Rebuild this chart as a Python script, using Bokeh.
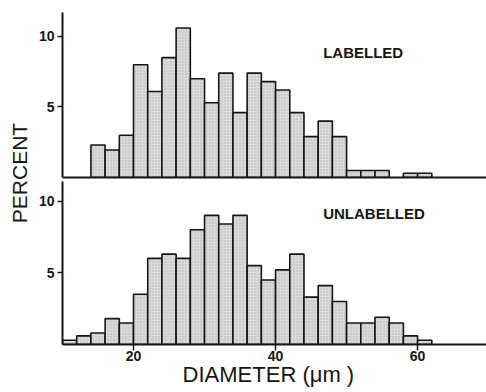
from bokeh.plotting import figure
from bokeh.layouts import row, column
from bokeh.models import Range1d, FixedTicker, ColumnDataSource
from bokeh.core.properties import value
from bokeh.embed import file_html
from bokeh.resources import INLINE
import math

# ---- data: 2-µm diameter bins (left edges) and percent per bin ----
bin_left = [10, 12, 14, 16, 18, 20, 22, 24, 26, 28, 30, 32, 34,
            36, 38, 40, 42, 44, 46, 48, 50, 52, 54, 56, 58, 60]
labelled = [0, 0, 2.3, 1.95, 3.0, 8.0, 6.1, 8.5, 10.6, 7.0, 5.3, 7.4, 4.6,
            7.4, 6.8, 6.2, 4.6, 2.9, 4.0, 2.9, 0.5, 0.5, 0.5, 0, 0.3, 0.3]
unlabelled = [0.3, 0.6, 0.8, 1.8, 1.5, 3.5, 6.0, 6.3, 6.0, 8.0, 9.0, 8.4, 9.0,
              5.5, 4.5, 5.2, 6.3, 3.3, 4.1, 3.0, 1.5, 1.5, 1.9, 1.5, 0.6, 0.3]
bin_width = 2
y_ticks = [5, 10]
x_ticks = [20, 40, 60]
panel_names = ["LABELLED", "UNLABELLED"]
y_title = "PERCENT"
x_title = "DIAMETER  (\u03bcm  )"

FONT = "Liberation Sans"
INK = "#161616"
X_RANGE = (10, 69.7)
PW = 452  # panel width


def style_panel(p, yticks):
    p.toolbar.logo = None
    p.grid.visible = False
    p.outline_line_color = None
    p.background_fill_color = "white"
    p.border_fill_color = "white"
    p.yaxis.ticker = FixedTicker(ticks=yticks)
    p.yaxis.axis_line_width = 2
    p.yaxis.axis_line_color = INK
    p.yaxis.major_tick_line_width = 1.5
    p.yaxis.major_tick_line_color = INK
    p.yaxis.major_tick_out = 5
    p.yaxis.major_tick_in = 0
    p.yaxis.minor_tick_line_color = None
    p.yaxis.major_label_standoff = 3
    p.yaxis.major_label_text_font = FONT
    p.yaxis.major_label_text_font_size = "14px"
    p.yaxis.major_label_text_font_style = "bold"
    p.yaxis.major_label_text_color = INK
    p.xaxis.axis_line_width = 2
    p.xaxis.axis_line_color = INK
    p.xaxis.minor_tick_line_color = None


def add_bars(p, vals):
    lefts = [b for b, v in zip(bin_left, vals) if v > 0]
    tops = [v for v in vals if v > 0]
    src = ColumnDataSource(dict(left=lefts, right=[l + bin_width for l in lefts], top=tops))
    p.quad(left="left", right="right", bottom=0, top="top", source=src,
           fill_color="#dadada", line_color=INK, line_width=1.6,
           hatch_pattern="dot", hatch_color="#b4b4b4", hatch_scale=3, hatch_weight=1)


# ---- top panel ----
top = figure(width=PW, height=179, output_backend="svg", toolbar_location=None, title=None,
             x_range=Range1d(*X_RANGE), y_range=Range1d(0, 11.7),
             min_border_left=28, min_border_right=0, min_border_top=12, min_border_bottom=2)
style_panel(top, y_ticks)
top.xaxis.major_tick_line_color = None
top.xaxis.major_tick_out = 0
top.xaxis.major_tick_in = 0
top.xaxis.major_label_standoff = 0
top.xaxis.major_label_text_font_size = "0px"
top.xaxis.ticker = FixedTicker(ticks=[])
add_bars(top, labelled)
top.text(x=[46.7], y=[8.85], text=[panel_names[0]], text_font=value(FONT),
         text_font_size="15px", text_font_style="bold", text_color=INK,
         text_baseline="middle", text_align="left")

# ---- bottom panel ----
bot = figure(width=PW, height=213, output_backend="svg", toolbar_location=None, title=None,
             x_range=Range1d(*X_RANGE), y_range=Range1d(0, 11.36),
             min_border_left=28, min_border_right=0, min_border_top=2, min_border_bottom=48)
style_panel(bot, y_ticks)
bot.xaxis.ticker = FixedTicker(ticks=x_ticks)
bot.xaxis.major_tick_line_width = 1.5
bot.xaxis.major_tick_line_color = INK
bot.xaxis.major_tick_out = 6
bot.xaxis.major_tick_in = 0
bot.xaxis.major_label_standoff = 0
bot.xaxis.major_label_text_font = FONT
bot.xaxis.major_label_text_font_size = "14px"
bot.xaxis.major_label_text_font_style = "bold"
bot.xaxis.major_label_text_color = INK
bot.xaxis.axis_label = x_title
bot.xaxis.axis_label_text_font = FONT
bot.xaxis.axis_label_text_font_size = "22px"
bot.xaxis.axis_label_text_font_style = "normal"
bot.xaxis.axis_label_text_color = INK
bot.xaxis.axis_label_standoff = -2
add_bars(bot, unlabelled)
bot.text(x=[46.7], y=[9.13], text=[panel_names[1]], text_font=value(FONT),
         text_font_size="15px", text_font_style="bold", text_color=INK,
         text_baseline="middle", text_align="left")

# ---- left label strip ----
lab = figure(width=34, height=392, output_backend="svg", toolbar_location=None, title=None,
             x_range=Range1d(0, 34), y_range=Range1d(0, 392),
             min_border_left=0, min_border_right=0, min_border_top=0, min_border_bottom=0)
lab.axis.visible = False
lab.grid.visible = False
lab.outline_line_color = None
lab.toolbar.logo = None
lab.text(x=[18.5], y=[219.5], text=[y_title], angle=math.pi / 2,
         text_font=value(FONT), text_font_size="21px", text_color=INK,
         text_align="center", text_baseline="middle")

layout = row(lab, column(top, bot, spacing=0), spacing=0)
open("out.html", "w").write(file_html(layout, INLINE))
